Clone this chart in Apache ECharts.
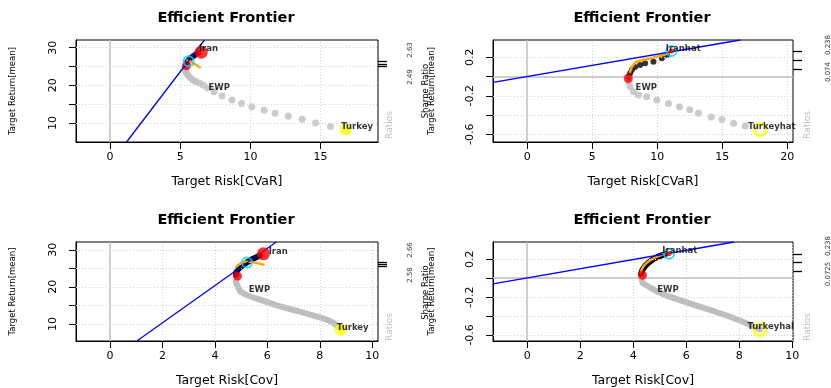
<!DOCTYPE html>
<html><head><meta charset="utf-8">
<script src="https://cdn.jsdelivr.net/npm/echarts@6/dist/echarts.min.js"></script>
<style>html,body{margin:0;padding:0;background:#fff}#c{width:831px;height:388px}</style>
</head><body><div id="c"></div><script>
// ---------- data ----------
const titleText = 'Efficient Frontier';
const xNames = ['Target Risk[CVaR]', 'Target Risk[CVaR]', 'Target Risk[Cov]', 'Target Risk[Cov]'];
const yName = 'Target Return[mean]';
const yName2 = 'Sharpe Ratio';

const xTicks = [[0,5,10,15],[0,5,10,15,20],[0,2,4,6,8,10],[0,2,4,6,8,10]];
const yTicksMean = [10,15,20,25,30];
const yLabelsMean = [10,20,30];
const yTicksRet = [-0.6,-0.4,-0.2,0,0.2];
const yLabelsRet = [-0.6,-0.2,0.2];

// panel 1 : CVaR / mean
const p1Gray = [[5.35,24.6],[5.38,23.9],[5.45,23.3],[5.55,22.7],[5.7,22.1],[5.9,21.5],[6.1,21.0],[6.38,20.6],[6.65,20.0],[6.96,19.3],[7.4,18.3],[7.98,17.2],[8.69,16.1],[9.37,15.2],[10.1,14.3],[10.98,13.4],[11.76,12.6],[12.7,11.8],[13.69,11.0],[14.64,10.0],[15.7,9.1]];
const p1Black = [[5.4,25.4],[5.45,25.9],[5.55,26.4],[5.65,26.9],[5.8,27.4],[5.95,27.8],[6.1,28.2],[6.3,28.6]];
const p1Orange = [[5.5,26.6],[5.8,26.2],[6.1,25.5],[6.4,24.8]];
const p1Cml = [[1.18,4.96],[6.73,32.04]];
const p1MinVar = [[5.45,25.2]];
const p1Asset = [[6.5,28.8]];
const p1Tangency = [[5.6,26.4]];
const p1Turkey = [[16.8,8.3]];
const p1Labels = [[6.3,29.65,'Iran'],[6.98,19.3,'EWP'],[16.43,8.97,'Turkey']];

// panel 2 : CVaR / return
const p2Gray = [[7.78,-0.055],[7.92,-0.106],[8.17,-0.158],[8.56,-0.192],[9.2,-0.21],[9.98,-0.244],[10.87,-0.279],[11.72,-0.313],[12.5,-0.345],[13.18,-0.38],[14.16,-0.42],[14.98,-0.445],[15.88,-0.486],[16.78,-0.514]];
const p2Black = [[7.79,0.0],[7.92,0.034],[8.05,0.068],[8.3,0.1],[8.69,0.12],[9.07,0.138],[9.71,0.154],[10.36,0.19],[10.75,0.224]];
const p2Orange = [[7.92,0.05],[8.1,0.11],[8.43,0.154],[9.2,0.182],[10.49,0.224],[11.13,0.265]];
const p2Cml = [[-2.63,-0.061],[16.4,0.38]];
const p2MinVar = [[7.78,-0.02]];
const p2Asset = [[11.1,0.265]];
const p2Tangency = [[11.1,0.265]];
const p2Turkey = [[17.95,-0.55]];
const p2Labels = [[10.62,0.286,'Iranhat'],[8.3,-0.12,'EWP'],[16.94,-0.524,'Turkeyhat']];

// panel 3 : Cov / mean
const p3Gray = [[4.86,22.9],[4.83,22.5],[4.8,21.4],[4.83,20.7],[4.96,18.8],[5.2,17.8],[5.6,16.8],[6.0,15.9],[6.36,15.0],[6.8,14.1],[7.24,13.3],[7.7,12.4],[8.13,11.5],[8.45,10.6],[8.64,9.6],[8.8,8.8]];
const p3Black = [[4.8,23.3],[4.82,24.0],[4.88,24.7],[4.98,25.4],[5.1,26.0],[5.22,26.6],[5.38,27.3],[5.55,27.9],[5.72,28.5]];
const p3Orange = [[4.83,25.5],[4.95,26.2],[5.15,26.8],[5.35,26.8],[5.6,26.4],[5.85,26.0]];
const p3Cml = [[1.02,5.4],[6.34,32.1]];
const p3MinVar = [[4.86,22.9]];
const p3Asset = [[5.85,28.9]];
const p3Tangency = [[5.22,26.6]];
const p3Turkey = [[8.8,8.5]];
const p3Labels = [[6.03,29.47,'Iran'],[5.27,19.2,'EWP'],[8.63,8.97,'Turkey']];

// panel 4 : Cov / return
const p4Gray = [[4.3,0.02],[4.25,0.0],[4.35,-0.05],[4.57,-0.087],[4.9,-0.14],[5.32,-0.19],[5.9,-0.245],[6.45,-0.295],[7.0,-0.345],[7.58,-0.4],[8.0,-0.445],[8.34,-0.486],[8.78,-0.54]];
const p4Black = [[4.3,0.05],[4.35,0.09],[4.45,0.13],[4.6,0.17],[4.8,0.21],[5.0,0.235],[5.2,0.255]];
const p4Orange = [[4.28,0.06],[4.35,0.11],[4.5,0.16],[4.7,0.2],[4.95,0.235],[5.2,0.26],[5.35,0.27]];
const p4Cml = [[-1.29,-0.06],[7.81,0.384]];
const p4MinVar = [[4.35,0.033]];
const p4Asset = [[5.35,0.26]];
const p4Tangency = [[5.35,0.26]];
const p4Turkey = [[8.78,-0.545]];
const p4Labels = [[5.08,0.287,'Iranhat'],[4.89,-0.122,'EWP'],[8.29,-0.517,'Turkeyhal']];

// secondary (ratio) axis ticks and labels
const ratioTicks = [[25.07,25.67,26.29],[0.078,0.165,0.258],[25.5,26.11,26.75],[0.075,0.166,0.259]];
const ratioLabels = [['2.63','2.49'],['0.238','0.074'],['2.66','2.58'],['0.238','0.0725']];
const ratioWord = 'Ratios';

// ---------- layout ----------
const FONT = '"DejaVu Sans", "Liberation Sans", Arial, sans-serif';
const grids = [
  {left:76, top:40, width:302, height:102},
  {left:493, top:40, width:300, height:102},
  {left:76, top:242, width:302, height:101},
  {left:493, top:242, width:300, height:101}
];
const xRanges = [[-2.42,19.09],[-2.63,20.45],[-1.30,10.22],[-1.29,10.03]];
const yRanges = [[4.96,32.04],[-0.68,0.38],[5.4,32.1],[-0.665,0.384]];
const panels = [
  {gray:p1Gray, black:p1Black, orange:p1Orange, cml:p1Cml, minv:p1MinVar, asset:p1Asset, tang:p1Tangency, turkey:p1Turkey, labels:p1Labels, dense:false, ret:false},
  {gray:p2Gray, black:p2Black, orange:p2Orange, cml:p2Cml, minv:p2MinVar, asset:p2Asset, tang:p2Tangency, turkey:p2Turkey, labels:p2Labels, dense:false, ret:true},
  {gray:p3Gray, black:p3Black, orange:p3Orange, cml:p3Cml, minv:p3MinVar, asset:p3Asset, tang:p3Tangency, turkey:p3Turkey, labels:p3Labels, dense:true, ret:false},
  {gray:p4Gray, black:p4Black, orange:p4Orange, cml:p4Cml, minv:p4MinVar, asset:p4Asset, tang:p4Tangency, turkey:p4Turkey, labels:p4Labels, dense:true, ret:true}
];

const grid = grids.map(g => Object.assign({show:true, borderColor:'#000', borderWidth:1, backgroundColor:'transparent', containLabel:false}, g));
const xAxis = [], yAxis = [], series = [], title = [], graphic = [];
const fmt = v => (Math.round(v*10)/10).toString();

panels.forEach((p, i) => {
  const g = grids[i];
  title.push({text:titleText, left:g.left+g.width/2-1, top:g.top-29, textAlign:'center', padding:0,
    textStyle:{fontFamily:FONT, fontSize:14.5, fontWeight:'bold', color:'#000'}});
  xAxis.push({type:'value', gridIndex:i, min:xRanges[i][0], max:xRanges[i][1],
    name:xNames[i], nameLocation:'middle', nameGap:33,
    nameTextStyle:{fontFamily:FONT, fontSize:12.5, color:'#000'},
    axisLine:{show:true, onZero:false, lineStyle:{color:'#000'}},
    axisTick:{show:true, length:7, customValues:xTicks[i], lineStyle:{color:'#000'}},
    axisLabel:{show:true, margin:10, customValues:xTicks[i], fontFamily:FONT, fontSize:11, color:'#000'},
    splitLine:{show:false}});
  const yt = p.ret ? yTicksRet : yTicksMean;
  const yl = p.ret ? yLabelsRet : yLabelsMean;
  yAxis.push({type:'value', gridIndex:i, min:yRanges[i][0], max:yRanges[i][1],
    name: yName, nameLocation:'middle', nameGap: p.ret ? 57 : 59, nameRotate:90,
    nameTextStyle:{fontFamily:FONT, fontSize:8.5, color:'#000'},
    axisLine:{show:true, onZero:false, lineStyle:{color:'#000'}},
    axisTick:{show:true, length:7, customValues:yt, lineStyle:{color:'#000'}},
    axisLabel:{show:true, rotate:90, margin:17, customValues:yl, formatter:fmt, fontFamily:FONT, fontSize:11, color:'#000'},
    splitLine:{show:false}});
});
// right-hand ratio axes
panels.forEach((p, i) => {
  yAxis.push({type:'value', gridIndex:i, position:'right', min:yRanges[i][0], max:yRanges[i][1],
    axisLine:{show:false, onZero:false}, axisLabel:{show:false}, splitLine:{show:false},
    axisTick:{show:true, length:9, customValues:ratioTicks[i], lineStyle:{color:'#000', width:1.3}}});
});

const lineBase = {type:'line', symbol:'none', silent:true, animation:false};
panels.forEach((p, i) => {
  const ax = {xAxisIndex:i, yAxisIndex:i};
  const mlData = [];
  xTicks[i].forEach(v => mlData.push({xAxis:v, lineStyle: v===0 ? {color:'#bebebe', type:'solid', width:1.5} : {color:'#d3d3d3', type:[1,2], width:1}}));
  (p.ret ? yTicksRet : yTicksMean).forEach(v => mlData.push({yAxis:v, lineStyle: v===0 ? {color:'#bebebe', type:'solid', width:1.5} : {color:'#d3d3d3', type:[1,2], width:1}}));
  series.push(Object.assign({}, lineBase, ax, {data:[], z:1,
    markLine:{silent:true, symbol:['none','none'], label:{show:false}, animation:false, data:mlData}}));
  if (p.dense) {
    series.push(Object.assign({}, lineBase, ax, {data:p.gray, z:2, lineStyle:{color:'#bebebe', width:6, cap:'round', join:'round'}}));
    series.push(Object.assign({}, lineBase, ax, {data:p.black, z:3, lineStyle:{color:'#000', width:6, cap:'round', join:'round'}}));
  } else {
    series.push({type:'scatter', ...ax, data:p.gray, symbolSize:7, itemStyle:{color:'#bebebe'}, z:2, silent:true});
    series.push({type:'scatter', ...ax, data:p.black, symbolSize:6, itemStyle:{color:'#000'}, z:3, silent:true});
  }
  series.push(Object.assign({}, lineBase, ax, {data:p.orange, z:4, smooth:0.3, lineStyle:{color:'#ffa500', width:2.5, cap:'round'}}));
  series.push({type:'scatter', ...ax, data:p.minv, symbolSize:9, itemStyle:{color:'#ff0000'}, z:5, silent:true});
  series.push(Object.assign({}, lineBase, ax, {data:p.cml, z:6, lineStyle:{color:'#0000ff', width:1.3}}));
  series.push({type:'scatter', ...ax, data:p.asset, symbolSize: p.ret ? 5 : 13, itemStyle:{color:'#ff0000'}, z:7, silent:true});
  series.push({type:'scatter', ...ax, data:p.tang, symbolSize:10, itemStyle:{color:'rgba(0,0,0,0)', borderColor:'#00d8e8', borderWidth:2}, z:8, silent:true});
  series.push({type:'scatter', ...ax, data:p.turkey, symbolSize:12,
    itemStyle: p.ret ? {color:'rgba(0,0,0,0)', borderColor:'#ffff00', borderWidth:3} : {color:'#ffff00'}, z:8, silent:true});
  series.push({type:'scatter', ...ax, data:p.labels.map(d => ({value:[d[0], d[1]], name:d[2]})), symbolSize:1,
    itemStyle:{color:'rgba(0,0,0,0)'}, z:10, silent:true,
    label:{show:true, position:'right', distance:0, formatter: q => q.name, fontFamily:FONT, fontSize:8.5, fontWeight:'bold', color:'#000'}});
});

const rotTxt = (x, y, text, size, color) => ({type:'text', x:x, y:y, rotation:Math.PI/2, silent:true,
  style:{text:text, fontFamily:FONT, fontSize:size, fill:color, align:'center', verticalAlign:'middle'}});
const rx = [410, 828, 410, 828];
const ryTop = [50, 45, 250, 246];
const ryBot = [77, 72, 275, 274];
const wordX = [390, 808, 390, 808];
const wordY = [125, 125, 327, 327];
panels.forEach((p, i) => {
  graphic.push(rotTxt(rx[i], ryTop[i], ratioLabels[i][0], 7, '#333'));
  graphic.push(rotTxt(rx[i], ryBot[i], ratioLabels[i][1], 7, '#333'));
  graphic.push(rotTxt(wordX[i], wordY[i], ratioWord, 9, '#c0c0c0'));
  if (p.ret) graphic.push(rotTxt(grids[i].left - 67, grids[i].top + grids[i].height/2, yName2, 8.5, '#000'));
});

const chart = echarts.init(document.getElementById('c'), null, {renderer:'canvas'});
chart.setOption({animation:false, backgroundColor:'#fff', title, grid, xAxis, yAxis, series, graphic});
</script></body></html>
